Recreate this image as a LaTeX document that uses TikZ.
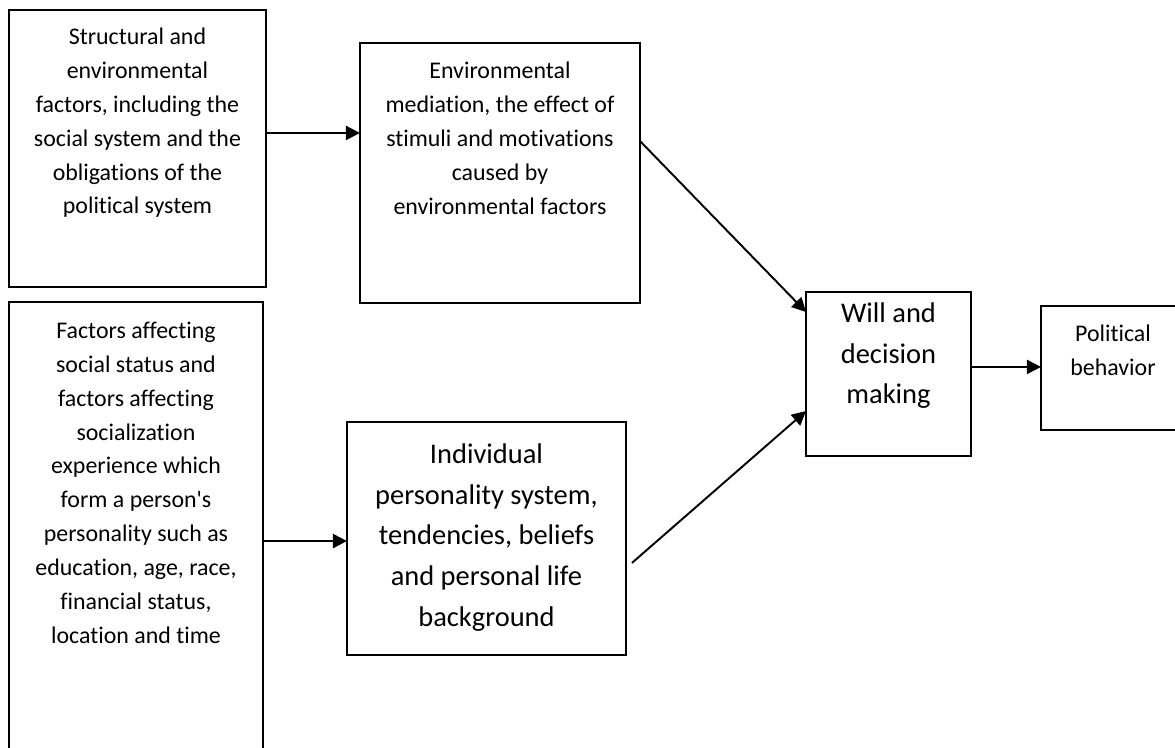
\documentclass[tikz,border=0pt]{standalone}
\usepackage{fontspec}
\setmainfont[Ligatures={NoCommon}]{Carlito}
\usetikzlibrary{arrows.meta,positioning,calc}

\begin{document}
\begin{tikzpicture}[x=0.02cm,y=-0.02cm,
        box/.style={draw,line width=1.1pt,inner sep=0pt,outer sep=0pt,anchor=north west},
        txt/.style={align=center,inner sep=0pt,font=\fontsize{13.6}{19.3}\selectfont},
        bigtxt/.style={align=center,inner sep=0pt,font=\fontsize{16.2}{23.3}\selectfont},
        arr/.style={-{Triangle[length=8pt,width=8pt]},line width=1.1pt}]
    \useasboundingbox (0,0) rectangle (1175,747);
    % boxes
    \node [box,minimum width=5.14cm,minimum height=5.54cm] (struct) at (9,10) {};
    \node [box,minimum width=5.6cm,minimum height=5.2cm] (envmed) at (360,43) {};
    \node [box,minimum width=5.08cm,minimum height=9.16cm] (social) at (9,302) {};
    \node [box,minimum width=5.58cm,minimum height=4.66cm] (indiv) at (347,422) {};
    \node [box,minimum width=3.3cm,minimum height=3.28cm] (will) at (806,292) {};
    \node [box,minimum width=2.88cm,minimum height=2.48cm] (polit) at (1041,306) {};
    % texts
    \node [txt,below=0.35cm of struct.north] (struct-t)
        {Structural and\\environmental\\factors, including the\\social system and the\\obligations of the\\political system};
    \node [txt,below=0.37cm of envmed.north] (envmed-t)
        {Environmental\\mediation, the effect of\\stimuli and motivations\\caused by\\environmental factors};
    \node [txt,below=0.39cm of social.north] (social-t)
        {Factors affecting\\social status and\\factors affecting\\socialization\\experience which\\form a person\textquotesingle s\\personality such as\\education, age, race,\\financial status,\\location and time};
    \node [bigtxt,below=0.42cm of indiv.north] (indiv-t)
        {Individual\\personality system,\\tendencies, beliefs\\and personal life\\background};
    \node [bigtxt,below=0.2cm of will.north] (will-t)
        {Will and\\decision\\making};
    \node [txt,below=0.37cm of polit.north] (polit-t)
        {Political\\behavior};
    % arrows
    \coordinate (a1) at ($(struct.north east)!0.444!(struct.south east)$);
    \draw [arr] (a1) -- (a1 -| envmed.west);
    \draw [arr] ($(envmed.north east)!0.377!(envmed.south east)$) -- ($(will.north west)!0.122!(will.south west)$);
    \coordinate (a3) at ($(indiv.north west)!0.511!(indiv.south west)$);
    \draw [arr] (a3 -| social.east) -- (a3);
    \draw [arr] ($(indiv.north east)!0.605!(indiv.south east) + (0.12cm,0)$) -- ($(will.north west)!0.726!(will.south west)$);
    \coordinate (a5) at ($(will.north east)!0.457!(will.south east)$);
    \draw [arr] (a5) -- (a5 -| polit.west);
\end{tikzpicture}
\end{document}
